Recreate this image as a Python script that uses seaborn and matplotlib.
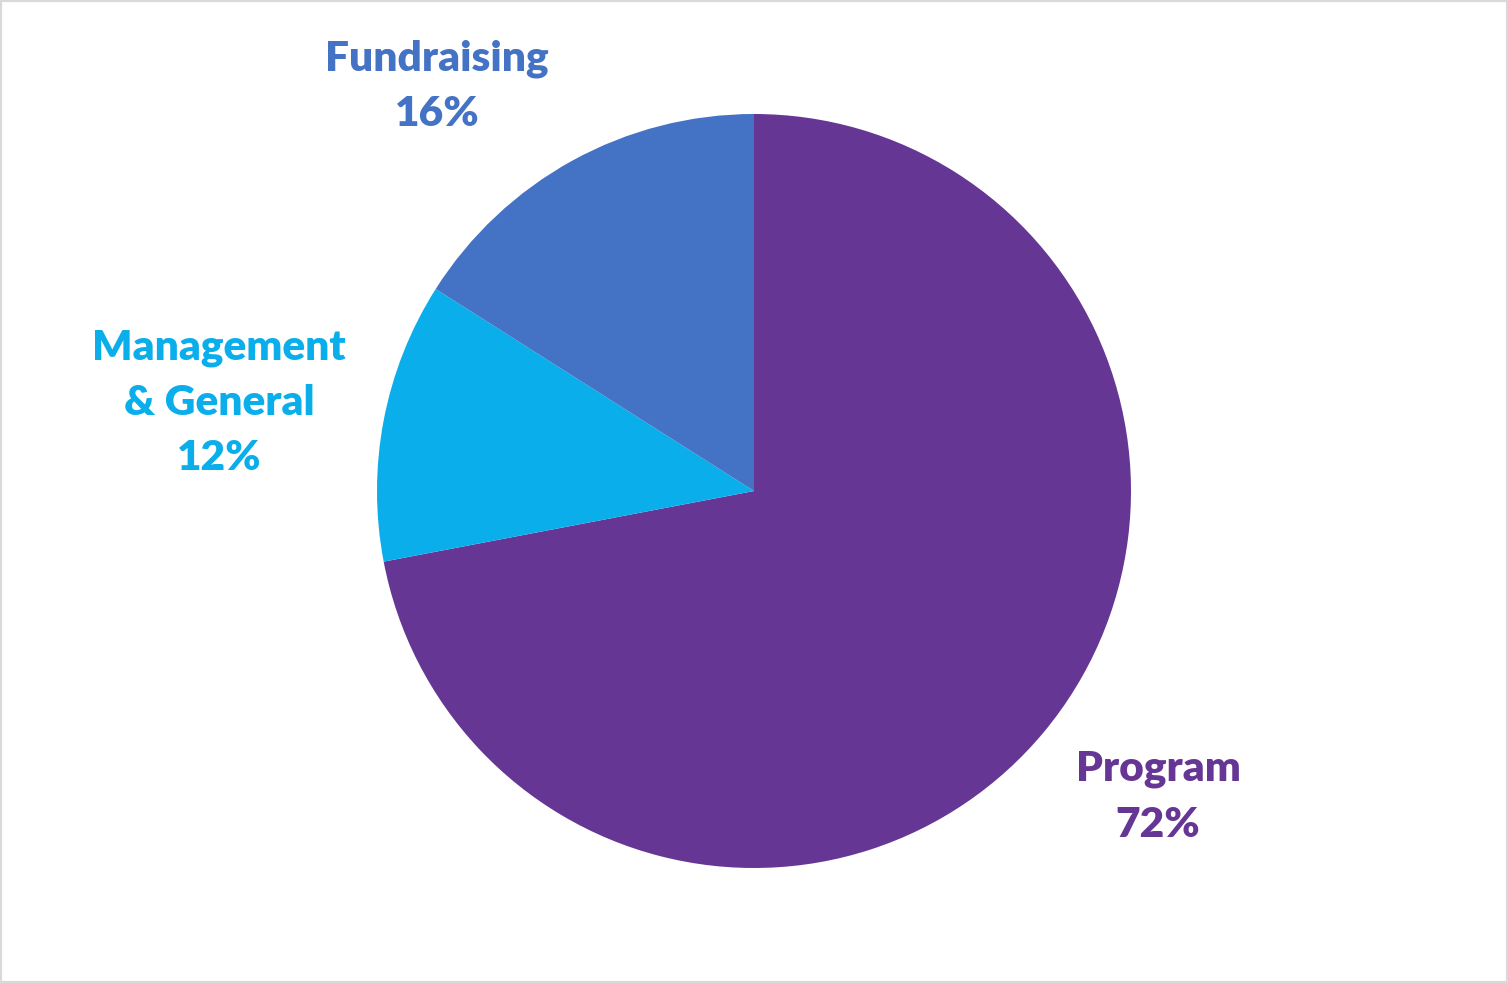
import matplotlib.pyplot as plt
import seaborn as sns
from matplotlib.patches import Rectangle

categories = ['Program', 'Management\n& General', 'Fundraising']
shares = [72, 12, 16]
colors = ['#663695', '#0AAEEA', '#4472C4']

sns.set_theme(style='white')
plt.rcParams['font.family'] = ['Lato', 'DejaVu Sans']

fig = plt.figure(figsize=(15.08, 9.83), dpi=100)
# axes sized so the pie is centred at ~(754, 491) px with radius ~377 px
W, H = 1508, 983
r = 377
ax = fig.add_axes([(754 - r) / W, 1 - (491 + r) / H, 2 * r / W, 2 * r / H])

wedges, _ = ax.pie(shares, colors=colors, startangle=90, counterclock=False,
                   radius=1, wedgeprops=dict(linewidth=0))
ax.set_xlim(-1, 1)
ax.set_ylim(-1, 1)
ax.set_aspect('equal')
ax.axis('off')

# label centres in pixel coordinates
label_pos = [(1158, 797), (219, 403), (437, 86)]
for cat, val, col, (px, py) in zip(categories, shares, colors, label_pos):
    fig.text(px / W, 1 - py / H, f'{cat}\n{val}%', color=col,
             ha='center', va='center', fontsize=30.5, fontweight='heavy',
             linespacing=1.55)

fig.patches.append(Rectangle((0, 0), 1, 1, transform=fig.transFigure,
                             fill=False, edgecolor='#D9D9D9', linewidth=3))

fig.savefig('out.png', dpi=100)
